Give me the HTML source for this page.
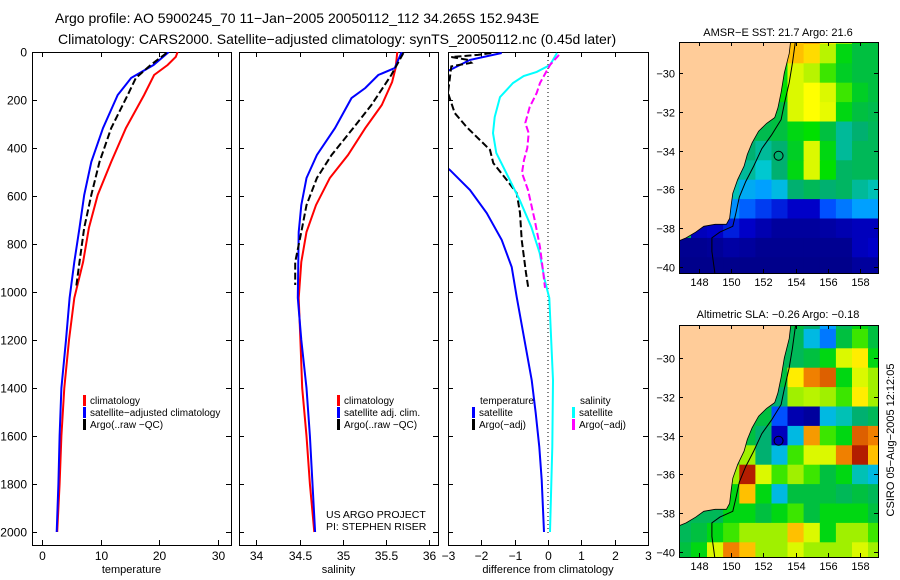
<!DOCTYPE html>
<html><head><meta charset="utf-8"><style>
html,body{margin:0;padding:0;background:#fff;}
svg{display:block;font-family:"Liberation Sans",sans-serif;}
</style></head><body>
<svg id="fig" width="900" height="580" viewBox="0 0 900 580">
<text x="55" y="23" font-size="14">Argo profile: AO 5900245_70 11−Jan−2005 20050112_112 34.265S 152.943E</text>
<text x="58" y="44" font-size="14">Climatology: CARS2000. Satellite−adjusted climatology: synTS_20050112.nc (0.45d later)</text>
<g id="plots"></g>
</svg>
<script>
// ---- profile data: [depth, value]
const depthTicks = [0,200,400,600,800,1000,1200,1400,1600,1800,2000];
const tempTicks = [0,10,20,30];
const salTicks = [34,34.5,35,35.5,36];
const diffTicks = [-3,-2,-1,0,1,2,3];
const tempClim = [[0,23.1],[20,22.8],[54,21.4],[96,19.1],[179,17.4],[317,14.3],[458,11.8],[596,9.5],[733,8.0],[875,7.0],[1025,5.5],[1200,4.6],[1400,3.8],[1600,3.3],[1800,3.0],[2000,2.6]];
const tempSat = [[0,21.6],[54,19.0],[108,15.2],[179,12.9],[317,10.4],[458,8.4],[596,7.2],[733,6.4],[875,5.5],[1025,4.7],[1200,4.1],[1400,3.3],[1600,3.0],[1800,2.8],[2000,2.5]];
const tempArgo = [[4,21.2],[12,20.8],[54,18.5],[108,16.0],[179,14.6],[317,11.8],[458,9.8],[596,8.4],[733,7.2],[875,6.4],[985,5.8]];
const salClim = [[0,35.63],[67,35.61],[125,35.57],[221,35.45],[317,35.26],[429,35.06],[525,34.85],[638,34.69],[750,34.58],[875,34.52],[1025,34.49],[1200,34.51],[1400,34.53],[1600,34.58],[1800,34.62],[2000,34.67]];
const salSat = [[0,35.68],[67,35.6],[96,35.41],[150,35.26],[192,35.1],[317,34.91],[429,34.7],[525,34.58],[638,34.52],[750,34.49],[1025,34.48],[1200,34.52],[1400,34.58],[1600,34.62],[1800,34.65],[2000,34.68]];
const salArgo = [[4,35.7],[96,35.56],[221,35.33],[317,35.12],[429,34.87],[525,34.7],[638,34.58],[750,34.52],[875,34.45],[971,34.45]];
const dTempSat = [[4,-1.39],[33,-2.34],[75,-2.94],[90,-3.3],[450,-3.3],[492,-2.94],[575,-2.34],[671,-1.84],[783,-1.39],[896,-1.09],[1021,-0.94],[1367,-0.49],[1504,-0.37],[1646,-0.26],[1783,-0.19],[2000,-0.12]];
const dTempArgo = [[4,-1.7],[12,-2.1],[21,-2.9],[33,-2.4],[45,-2.3],[60,-2.9],[171,-3.0],[254,-2.8],[313,-2.44],[367,-2.04],[408,-1.74],[463,-1.64],[533,-1.24],[588,-0.94],[671,-0.84],[783,-0.79],[921,-0.66],[983,-0.59]];
const dSalSat = [[4,0.27],[54,0.06],[83,-0.34],[100,-0.73],[129,-1.05],[188,-1.44],[271,-1.6],[338,-1.65],[421,-1.55],[504,-1.25],[617,-0.85],[729,-0.5],[838,-0.25],[950,-0.1],[1025,0.04],[1367,0.15],[1646,0.13],[2000,0.06]];
const dSalArgo = [[12,0.33],[54,0.06],[129,-0.24],[171,-0.34],[229,-0.55],[296,-0.68],[338,-0.58],[400,-0.62],[450,-0.72],[504,-0.78],[575,-0.6],[700,-0.4],[813,-0.24],[921,-0.14],[983,-0.09]];
// ---- map data: rows lat -28..-40, cols lon 147..159
const mapLats = [-28,-29,-30,-31,-32,-33,-34,-35,-36,-37,-38,-39,-40];
const mapLons = [147,148,149,150,151,152,153,154,155,156,157,158,159];
const sstGrid = [
[.5,.5,.5,.5,.5,.5,.5,.85,.88,.8,.7,.6,.55],
[.5,.5,.5,.5,.5,.5,.6,.85,.82,.72,.6,.55,.55],
[.5,.5,.5,.5,.5,.5,.6,.75,.72,.65,.58,.55,.55],
[.5,.5,.5,.5,.5,.5,.62,.75,.78,.75,.65,.58,.55],
[.5,.5,.5,.5,.5,.55,.55,.75,.78,.76,.6,.55,.52],
[.5,.5,.5,.5,.52,.52,.55,.6,.62,.55,.42,.45,.5],
[.5,.5,.5,.5,.45,.42,.45,.58,.75,.6,.42,.5,.5],
[.5,.5,.5,.45,.42,.38,.45,.6,.75,.62,.48,.5,.5],
[.5,.5,.5,.4,.32,.3,.35,.45,.5,.45,.48,.42,.4],
[.5,.5,.3,.28,.22,.18,.15,.12,.12,.2,.25,.3,.3],
[.5,.1,.12,.15,.12,.08,.05,.05,.05,.06,.08,.1,.1],
[.03,.03,.04,.06,.05,.03,.03,.03,.03,.03,.03,.1,.12],
[.02,.02,.02,.02,.02,.02,.02,.02,.02,.02,.02,.05,.05]];
const slaGrid = [
[.5,.5,.5,.5,.5,.5,.5,.55,.45,.3,.5,.6,.55],
[.5,.5,.5,.5,.5,.5,.5,.5,.35,.25,.55,.65,.55],
[.5,.5,.5,.5,.5,.5,.5,.5,.55,.6,.75,.8,.6],
[.5,.5,.5,.5,.5,.5,.55,.8,.9,.92,.6,.75,.7],
[.5,.5,.5,.5,.5,.5,.45,.7,.72,.7,.65,.8,.7],
[.5,.5,.5,.5,.5,.55,.2,.08,.05,.35,.4,.45,.5],
[.5,.5,.5,.5,.55,.45,.1,.35,.88,.65,.6,.92,.9],
[.5,.5,.5,.55,.7,.45,.35,.65,.75,.75,.9,.97,.85],
[.5,.5,.5,.7,.97,.75,.65,.7,.65,.55,.6,.4,.35],
[.5,.5,.5,.6,.85,.6,.35,.55,.55,.55,.5,.55,.5],
[.5,.5,.5,.6,.6,.55,.6,.65,.55,.6,.6,.6,.55],
[.5,.55,.6,.65,.7,.7,.7,.85,.75,.6,.7,.7,.65],
[.55,.6,.75,.9,.85,.7,.7,.75,.7,.7,.7,.75,.7]];
const mapLatTicks = [-30,-32,-34,-36,-38,-40];
const mapLonTicks = [148,150,152,154,156,158];
const landPoly = [[153.7,-28.3],[153.6,-29],[153.3,-30],[153.1,-31],[152.9,-31.8],[152.7,-32.3],[152.2,-32.6],[151.7,-33],[151.3,-33.6],[151.0,-34.2],[150.8,-34.8],[150.4,-35.5],[150.1,-36.2],[150.0,-36.8],[149.9,-37.5],[149.7,-37.8],[149.0,-37.8],[148.3,-37.9],[147.8,-38.2],[147.2,-38.5],[146.6,-38.7],[146.6,-28.3]];
const contourLine = [[154.0,-28.3],[153.8,-29.5],[153.6,-30.5],[153.3,-31.6],[153.1,-32.4],[152.5,-33.2],[151.9,-33.9],[151.4,-34.8],[150.9,-35.6],[150.5,-36.4],[150.3,-37.2],[150.1,-37.9],[149.3,-38.2],[148.8,-38.5],[148.8,-39.2],[149.0,-40.4]];
const argoPos = [152.943,-34.265];

const NS='http://www.w3.org/2000/svg';
const root=document.getElementById('plots');
function mk(tag,attrs,parent){const e=document.createElementNS(NS,tag);for(const k in attrs)e.setAttribute(k,attrs[k]);(parent||root).appendChild(e);return e;}

const top0=52, bot0=545;
const yD=d=>top0+d*0.24;
function panel(name,x0,x1,vmin,vmax,ticks,fmt,title,showY){
  const g=mk('g',{});
  
  
  const sx=v=>x0+(v-vmin)/(vmax-vmin)*(x1-x0);
  const r=mk('rect',{x:x0+0.5,y:top0+0.5,width:x1-x0,height:bot0-top0,fill:'none',stroke:'#000','stroke-width':1},g);
  
  
  ticks.forEach(t=>{const x=Math.round(sx(t))+0.5;
    mk('line',{x1:x,x2:x,y1:top0,y2:top0+5,stroke:'#000'},g);
    mk('line',{x1:x,x2:x,y1:bot0-5,y2:bot0,stroke:'#000'},g);
    const tx=mk('text',{x:x,y:560,'font-size':12,'text-anchor':'middle'},g);tx.textContent=fmt(t);
    
    
  });
  depthTicks.forEach(d=>{const y=Math.round(yD(d))+0.5;
    mk('line',{x1:x0,x2:x0+5,y1:y,y2:y,stroke:'#000'},g);
    mk('line',{x1:x1-5,x2:x1,y1:y,y2:y,stroke:'#000'},g);
    if(showY){const tx=mk('text',{x:27,y:y+4,'font-size':12,'text-anchor':'end'},g);tx.textContent=d;
      
      }
  });
  const at=mk('text',{x:(x0+x1)/2,y:573,'font-size':11,'text-anchor':'middle'},g);at.textContent=title;
  
  
  const cid='clip'+name;
  const cp=mk('clipPath',{id:cid},g);mk('rect',{x:x0+1,y:top0,width:x1-x0-1,height:bot0-top0},cp);
  const lg=mk('g',{'clip-path':'url(#'+cid+')'},g);
  return {g,lg,sx};
}
function line(p,data,color,dash,name){
  const pts=data.map(d=>p.sx(d[1]).toFixed(1)+','+yD(d[0]).toFixed(1)).join(' ');
  const a={points:pts,fill:'none',stroke:color,'stroke-width':2};
  if(dash)a['stroke-dasharray']=dash;
  const e=mk('polyline',a,p.lg);
  
  
}
function legend(g,x,y,color,label,name){
  if(color){const b=mk('rect',{x:x,y:y-9,width:3,height:11,fill:color},g);
    
    }
  const t=mk('text',{x:x+7,y:y,'font-size':10},g);t.textContent=label;
  
  
}

const p1=panel('temperature-panel',32,231,-1.7,32.2,tempTicks,v=>v,'temperature',true);
line(p1,tempClim,'#ff0000',null,'temp-climatology-line');
line(p1,tempSat,'#0000ff',null,'temp-satellite-line');
line(p1,tempArgo,'#000',  '7,3','temp-argo-line');
legend(p1.g,83,404,'#ff0000','climatology','legend-climatology');
legend(p1.g,83,416,'#0000ff','satellite−adjusted climatology','legend-satellite-adjusted');
legend(p1.g,83,428,'#000','Argo(..raw −QC)','legend-argo');

const p2=panel('salinity-panel',239,438,33.8,36.1,salTicks,v=>v,'salinity',false);
line(p2,salClim,'#ff0000',null,'sal-climatology-line');
line(p2,salSat,'#0000ff',null,'sal-satellite-line');
line(p2,salArgo,'#000','7,3','sal-argo-line');
legend(p2.g,337,404,'#ff0000','climatology','legend-climatology');
legend(p2.g,337,416,'#0000ff','satellite adj. clim.','legend-satellite-adj');
legend(p2.g,337,428,'#000','Argo(..raw −QC)','legend-argo');
const c1=mk('text',{x:326,y:518,'font-size':10.5},p2.g);c1.textContent='US ARGO PROJECT';


const c2=mk('text',{x:326,y:530,'font-size':10.5},p2.g);c2.textContent='PI: STEPHEN RISER';



const p3=panel('difference-panel',448,648,-3,3,diffTicks,v=>v<0?'−'+(-v):v,'difference from climatology',false);
const zl=mk('line',{x1:p3.sx(0),x2:p3.sx(0),y1:top0,y2:533,stroke:'#000','stroke-dasharray':'1,3'},p3.lg);


line(p3,dTempSat,'#0000ff',null,'diff-temp-satellite-line');
line(p3,dTempArgo,'#000','7,3','diff-temp-argo-line');
line(p3,dSalSat,'#00ffff',null,'diff-sal-satellite-line');
line(p3,dSalArgo,'#ff00ff','7,3','diff-sal-argo-line');
legend(p3.g,473,404,null,'temperature','legend-temperature-header');
legend(p3.g,472,416,'#0000ff','satellite','legend-temp-satellite');
legend(p3.g,472,428,'#000','Argo(−adj)','legend-temp-argo');
legend(p3.g,573,404,null,'salinity','legend-salinity-header');
legend(p3.g,572,416,'#00ffff','satellite','legend-sal-satellite');
legend(p3.g,572,428,'#ff00ff','Argo(−adj)','legend-sal-argo');

// ---- maps
const cstops=[[0,[0,0,127]],[.12,[0,0,200]],[.2,[0,80,255]],[.3,[0,160,255]],[.38,[0,200,208]],[.45,[0,176,112]],[.55,[0,192,64]],[.62,[0,224,0]],[.7,[160,240,0]],[.78,[255,255,0]],[.85,[255,192,0]],[.9,[240,128,0]],[.95,[192,48,0]],[1,[160,0,0]]];
function cmap(v){for(let i=1;i<cstops.length;i++){if(v<=cstops[i][0]){const a=cstops[i-1],b=cstops[i];const t=(v-a[0])/(b[0]-a[0]);
  return 'rgb('+a[1].map((c,j)=>Math.round(c+(b[1][j]-c)*t)).join(',')+')';}}return 'rgb(160,0,0)';}
function drawMap(name,top,bottom,lat30y,lat40y,grid,title,titleY){
  const g=mk('g',{});
  
  
  const L=679,R=878;
  const sx=lon=>699+(lon-148)*16.1;
  const sy=lat=>lat30y+(-30-lat)*(lat40y-lat30y)/10;
  const cid='clip'+name;
  const cp=mk('clipPath',{id:cid},g);mk('rect',{x:L,y:top,width:R-L,height:bottom-top},cp);
  const fg=mk('g',{'clip-path':'url(#'+cid+')'},g);
  grid.forEach((row,i)=>row.forEach((v,j)=>{
    const x=sx(mapLons[j]-0.5),y=sy(mapLats[i]+0.5);
    const c=mk('rect',{x:x.toFixed(1),y:y.toFixed(1),width:(sx(1)-sx(0)+0.6).toFixed(1),height:(sy(-1)-sy(0)+0.6).toFixed(1),fill:cmap(v)},fg);
    
    
  }));
  const land=mk('polygon',{points:landPoly.map(p=>sx(p[0]).toFixed(1)+','+sy(p[1]).toFixed(1)).join(' '),fill:'#ffcc99',stroke:'#000','stroke-width':0.8},fg);
  
  
  const cl=mk('polyline',{points:contourLine.map(p=>sx(p[0]).toFixed(1)+','+sy(p[1]).toFixed(1)).join(' '),fill:'none',stroke:'#000','stroke-width':1},fg);
  
  
  const ci=mk('circle',{cx:sx(argoPos[0]),cy:sy(argoPos[1]),r:4.5,fill:'none',stroke:'#000','stroke-width':1},fg);
  
  
  const fr=mk('rect',{x:L+0.5,y:top+0.5,width:R-L,height:bottom-top,fill:'none',stroke:'#000'},g);
  
  
  mapLatTicks.forEach(t=>{const y=Math.round(sy(t))+0.5;
    mk('line',{x1:L,x2:L+4,y1:y,y2:y,stroke:'#000'},g);mk('line',{x1:R-4,x2:R,y1:y,y2:y,stroke:'#000'},g);
    const tx=mk('text',{x:675,y:y+4,'font-size':11,'text-anchor':'end'},g);tx.textContent='−'+(-t);
    
    });
  mapLonTicks.forEach(t=>{const x=Math.round(sx(t))+0.5;
    mk('line',{x1:x,x2:x,y1:top,y2:top+4,stroke:'#000'},g);mk('line',{x1:x,x2:x,y1:bottom-4,y2:bottom,stroke:'#000'},g);
    const tx=mk('text',{x:x,y:bottom+13,'font-size':11,'text-anchor':'middle'},g);tx.textContent=t;
    
    });
  const tt=mk('text',{x:778,y:titleY,'font-size':11,'text-anchor':'middle'},g);tt.textContent=title;
  
  
}
drawMap('sst-map',42,273,73,267,sstGrid,'AMSR−E SST: 21.7 Argo: 21.6',36);
drawMap('sla-map',325,557,358,552,slaGrid,'Altimetric SLA: −0.26 Argo: −0.18',318);
const cs=mk('text',{x:0,y:0,'font-size':11,'text-anchor':'middle',transform:'translate(894,440) rotate(-90)'});
cs.textContent='CSIRO 05−Aug−2005 12:12:05';


</script>
</body></html>
